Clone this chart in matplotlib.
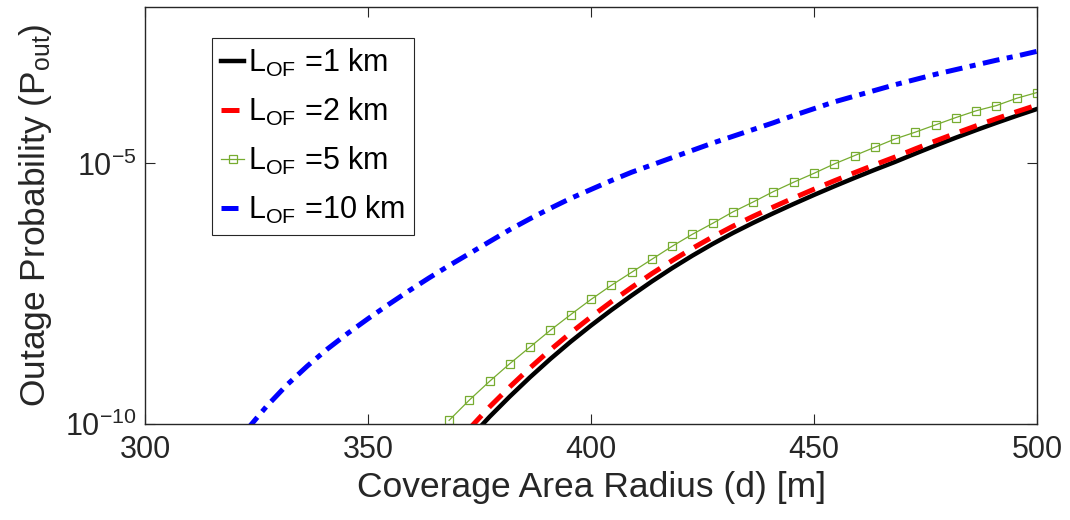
import numpy as np
import matplotlib
matplotlib.use("Agg")
import matplotlib.pyplot as plt
from matplotlib.ticker import NullLocator, LogFormatterSciNotation

plt.rcParams["font.family"] = ["Liberation Sans", "DejaVu Sans"]
plt.rcParams["mathtext.fontset"] = "custom"
plt.rcParams["mathtext.rm"] = "Liberation Sans"
plt.rcParams["mathtext.it"] = "Liberation Sans"

# coverage radius grid [m] (45 samples, 300..500)
radius = np.linspace(300, 500, 45)

# log10 of outage probability
# L_OF = 1 km, from radius[16] (372.7 m)
logp_1km = [-10.28, -9.86, -9.47, -9.10, -8.75, -8.42, -8.11, -7.815, -7.535,
            -7.265, -7.01, -6.77, -6.545, -6.335, -6.14, -5.955, -5.777, -5.605,
            -5.439, -5.278, -5.122, -4.971, -4.811, -4.656, -4.506, -4.361,
            -4.221, -4.086, -3.956]
# L_OF = 2 km, from radius[16]
logp_2km = [-10.09, -9.67, -9.285, -8.92, -8.575, -8.25, -7.945, -7.655, -7.38,
            -7.115, -6.865, -6.63, -6.41, -6.205, -6.015, -5.835, -5.662, -5.495,
            -5.334, -5.178, -5.025, -4.877, -4.72, -4.568, -4.421, -4.279,
            -4.141, -4.008, -3.881]
# L_OF = 5 km, from radius[15] (368.2 m)
logp_5km = [-9.93, -9.54, -9.18, -8.84, -8.52, -8.20, -7.90, -7.61, -7.34, -7.09,
            -6.84, -6.59, -6.36, -6.15, -5.93, -5.74, -5.54, -5.36, -5.19, -5.01,
            -4.85, -4.69, -4.53, -4.40, -4.26, -4.12, -3.99, -3.89, -3.75, -3.64]
# L_OF = 10 km, from radius[5] (322.7 m)
logp_10km = [-10.12, -9.66, -9.25, -8.89, -8.56, -8.26, -7.98, -7.71, -7.45,
             -7.20, -6.96, -6.73, -6.50, -6.27, -6.06, -5.86, -5.67, -5.50,
             -5.33, -5.17, -5.03, -4.89, -4.75, -4.61, -4.48, -4.35, -4.22,
             -4.08, -3.95, -3.82, -3.71, -3.60, -3.49, -3.39, -3.29, -3.20,
             -3.11, -3.02, -2.94, -2.85]

labels = [r"L$_{\mathregular{OF}}$ =1 km", r"L$_{\mathregular{OF}}$ =2 km",
          r"L$_{\mathregular{OF}}$ =5 km", r"L$_{\mathregular{OF}}$ =10 km"]

axcol = "#262626"


def main():
    fig = plt.figure(figsize=(10.7, 5.2), dpi=100)
    ax = fig.add_axes([0.1355, 0.1846, 0.8337, 0.8019])

    ax.plot(radius[16:], 10.0 ** np.array(logp_1km), color="black", lw=3.2,
            label=labels[0])
    ax.plot(radius[16:], 10.0 ** np.array(logp_2km), color="#ff0000", lw=3.6,
            dashes=(3.6, 2.2), label=labels[1])
    ax.plot(radius[15:], 10.0 ** np.array(logp_5km), color="#77ac30", lw=0.9,
            marker="s", markersize=5.5, markerfacecolor="none",
            markeredgewidth=0.9, label=labels[2])
    ax.plot(radius[5:], 10.0 ** np.array(logp_10km), color="#0000ff", lw=3.6,
            dashes=(3.4, 1.5, 1.2, 1.5), label=labels[3])

    ax.set_yscale("log")
    ax.set_xlim(300, 500)
    ax.set_ylim(1e-10, 1e-2)
    ax.set_xticks([300, 350, 400, 450, 500])
    ax.set_yticks([1e-10, 1e-5])
    ax.yaxis.set_minor_locator(NullLocator())
    ax.yaxis.set_major_formatter(LogFormatterSciNotation())

    for s in ax.spines.values():
        s.set_color(axcol)
        s.set_linewidth(1.0)
    ax.tick_params(direction="in", length=7, width=0.8, colors=axcol,
                   labelsize=22, top=True, right=True, pad=8)
    ax.tick_params(axis="y", pad=6)

    ax.set_xlabel("Coverage Area Radius (d) [m]", fontsize=25.5, color=axcol,
                  labelpad=4)
    ax.set_ylabel(r"Outage Probability (P$_{\mathregular{out}}$)", fontsize=25.5,
                  color=axcol, labelpad=8)

    leg = ax.legend(loc="upper left", bbox_to_anchor=(0.075, 0.926),
                    fontsize=22, handlelength=0.75, handletextpad=0.12,
                    labelspacing=0.55, borderpad=0.3, borderaxespad=0.0,
                    fancybox=False, framealpha=1.0, edgecolor=axcol)
    leg.get_frame().set_linewidth(0.8)

    fig.savefig("out.png", dpi=100)


if __name__ == "__main__":
    main()
